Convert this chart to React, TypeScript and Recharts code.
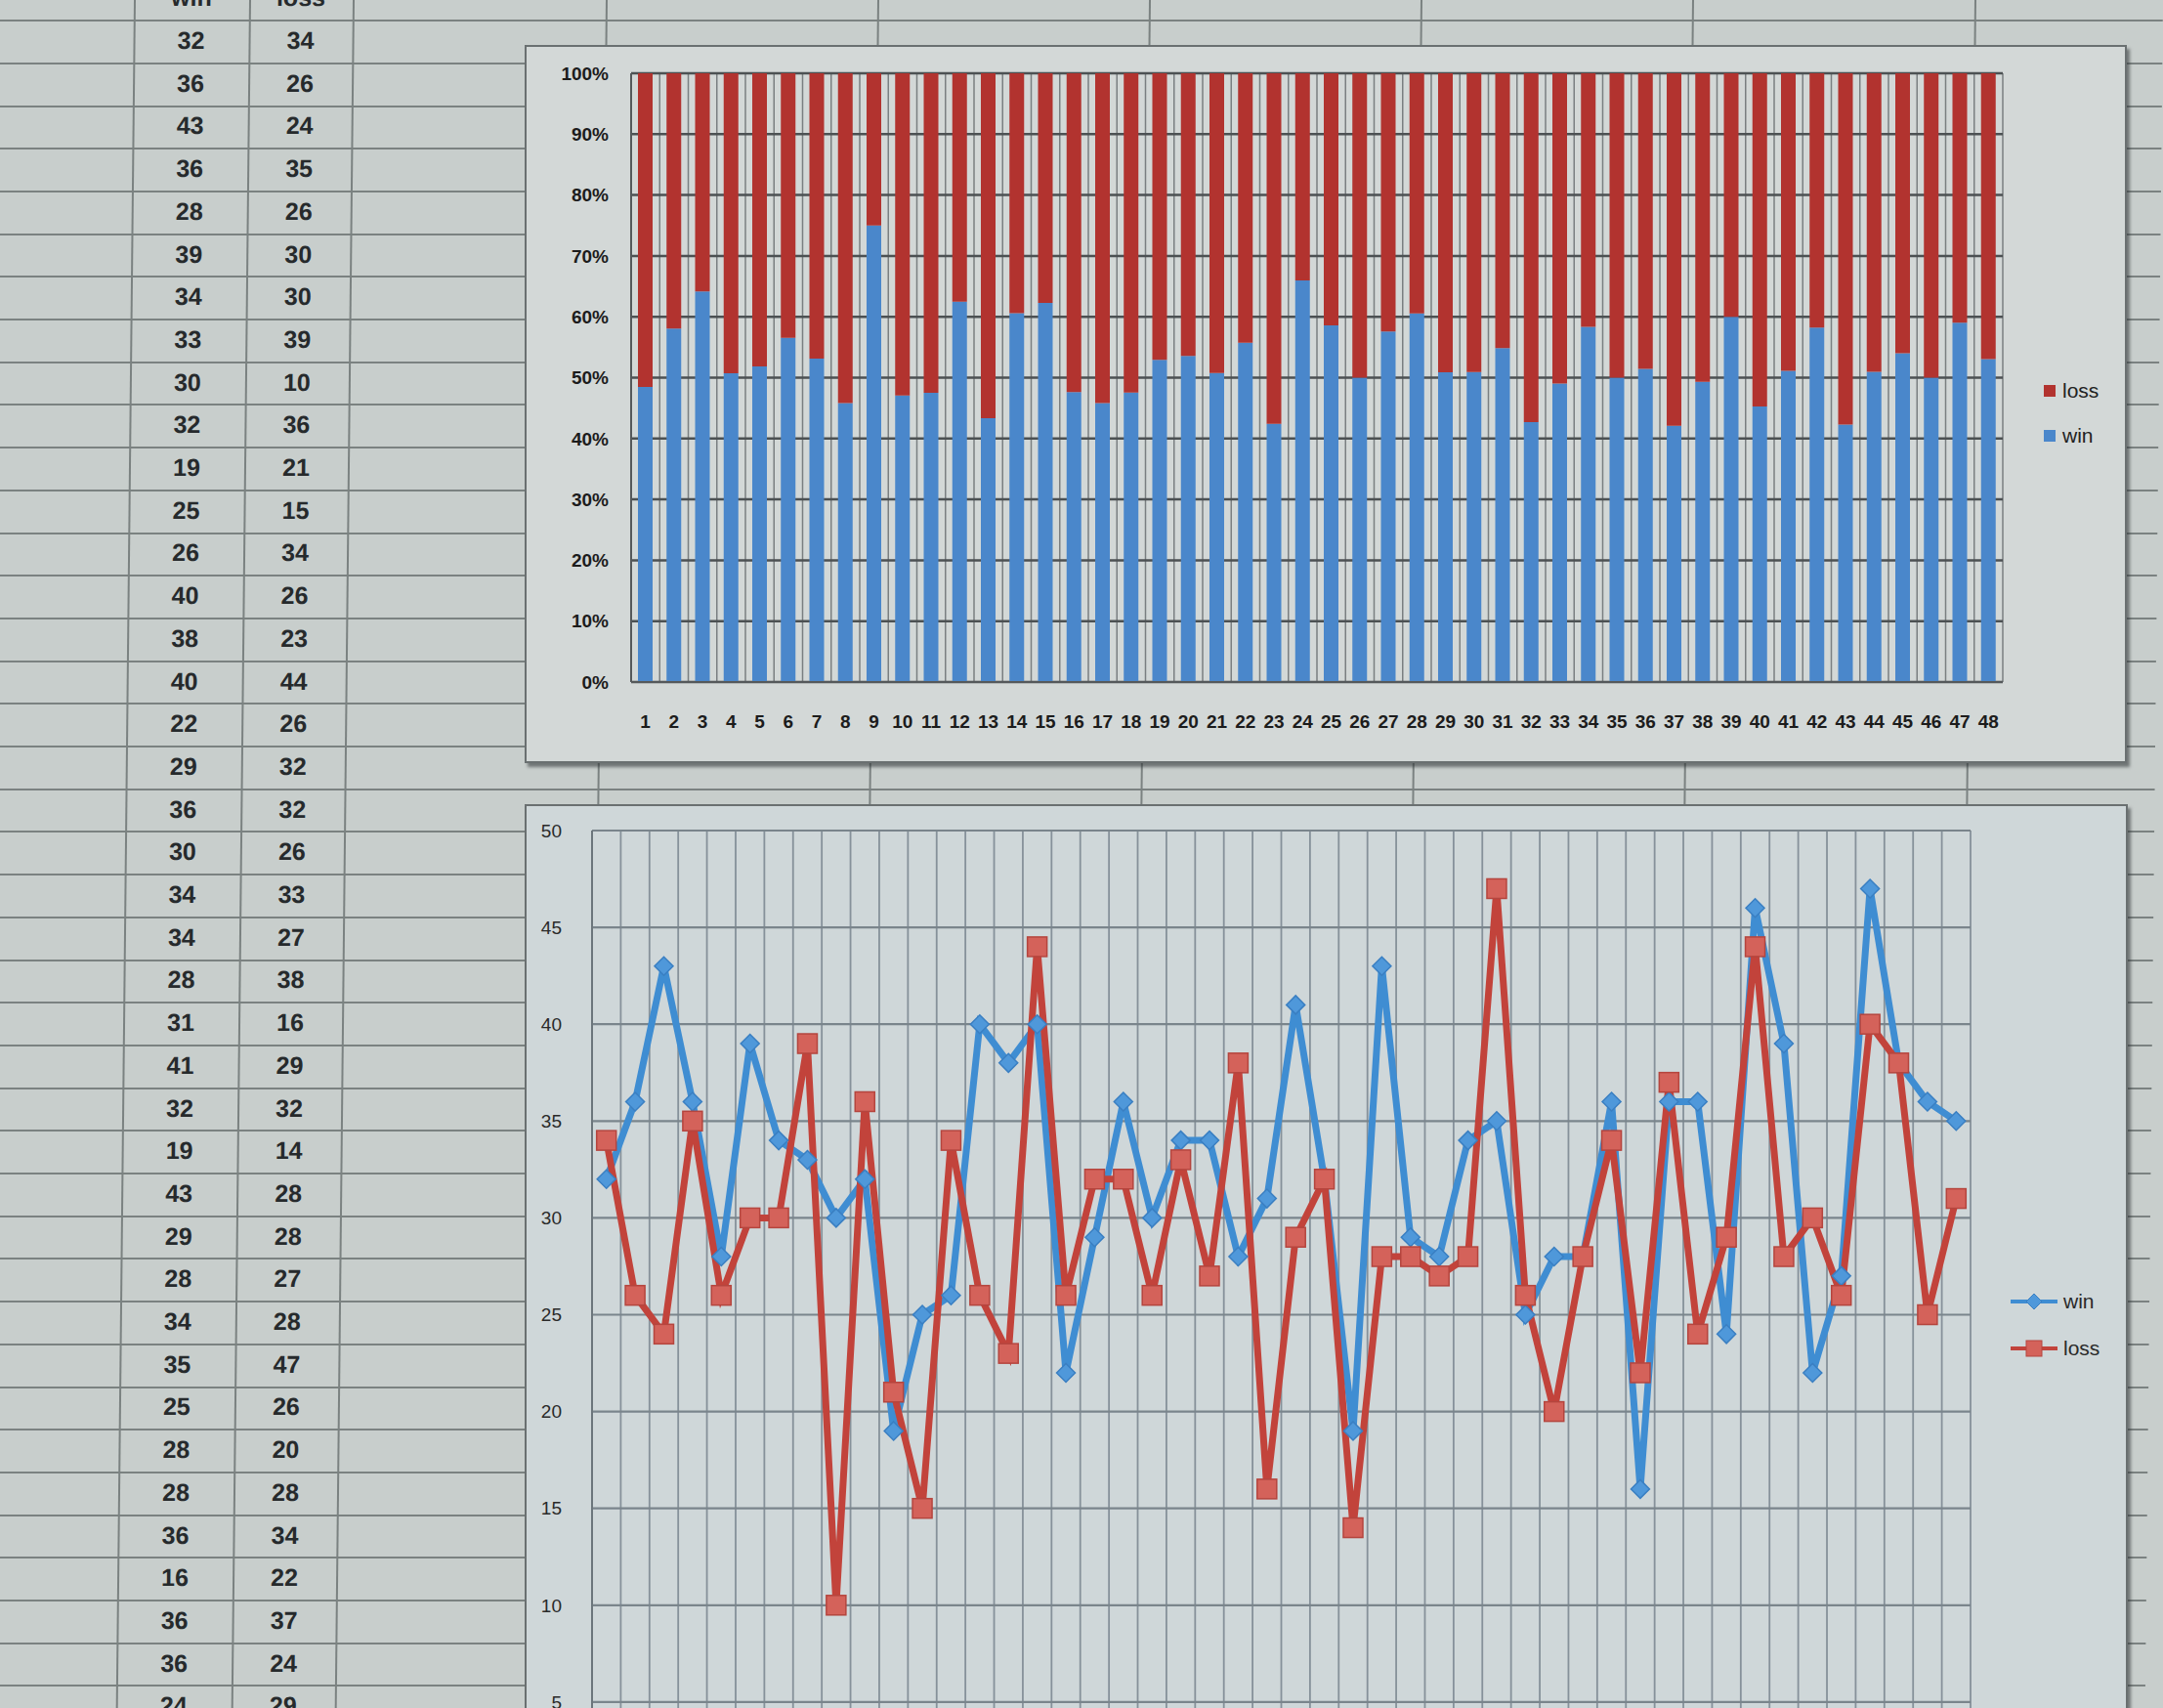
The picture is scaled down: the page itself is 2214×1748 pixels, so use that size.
import React from 'react';
import { BarChart, Bar, XAxis, YAxis, CartesianGrid, ComposedChart, Line } from 'recharts';

const categories = ['1','2','3','4','5','6','7','8','9','10','11','12','13','14','15','16','17','18','19','20','21','22','23','24','25','26','27','28','29','30','31','32','33','34','35','36','37','38','39','40','41','42','43','44','45','46','47','48'];
const winValues = [32,36,43,36,28,39,34,33,30,32,19,25,26,40,38,40,22,29,36,30,34,34,28,31,41,32,19,43,29,28,34,35,25,28,28,36,16,36,36,24,46,39,22,27,47,38,36,35];
const lossValues = [34,26,24,35,26,30,30,39,10,36,21,15,34,26,23,44,26,32,32,26,33,27,38,16,29,32,14,28,28,27,28,47,26,20,28,34,22,37,24,29,44,28,30,26,40,38,25,31];
const percentTicks = [0,0.1,0.2,0.3,0.4,0.5,0.6,0.7,0.8,0.9,1];
const countTicks = [0,5,10,15,20,25,30,35,40,45,50];
const tableHeaders = ['win','loss'];

const data = categories.map((c, i) => ({ name: c, win: winValues[i], loss: lossValues[i] }));

const FONT = '"Liberation Sans", Arial, sans-serif';
const SHEET_BG = '#c8cecc';
const CHART_BG = '#d3d8d7';
const LINE_BG = '#cfd7d9';
const BLUE = '#4a87cb';
const RED = '#b2332f';
const LBLUE = '#3f8dd2';
const LRED = '#c2433b';

const boundaryLines = (props: any) => {
  const { offset } = props;
  const n = categories.length;
  const out: number[] = [];
  for (let i = 0; i <= n; i++) out.push(offset.left + (offset.width * i) / n);
  return out;
};

const DiamondDot = (props: any) => {
  const { cx, cy, index } = props;
  if (cx == null || cy == null) return <g key={`d${index}`} />;
  const s = 9.5;
  return (
    <polygon
      key={`d${index}`}
      points={`${cx},${cy - s} ${cx + s},${cy} ${cx},${cy + s} ${cx - s},${cy}`}
      fill="#4f98da"
      stroke="#3a7fc2"
      strokeWidth={1.5}
    />
  );
};

const SquareDot = (props: any) => {
  const { cx, cy, index } = props;
  if (cx == null || cy == null) return <g key={`s${index}`} />;
  const s = 10;
  return (
    <rect key={`s${index}`} x={cx - s} y={cy - s} width={2 * s} height={2 * s} fill="#d4625a" stroke="#b5453e" strokeWidth={1.5} />
  );
};

const ROW0 = 42;
const ROWH = 43.7;

function Sheet() {
  const rowLines: React.ReactNode[] = [];
  for (let k = -1; k <= 41; k++) {
    rowLines.push(
      <div key={`r${k}`} style={{ position: 'absolute', left: 0, width: 2214, top: ROW0 - ROWH / 2 + k * ROWH, height: 2, background: '#7b8281' }} />
    );
  }
  const colXs = [137, 255, 361, 620, 898, 1176, 1454, 1732, 2021];
  const colLines = colXs.map((x, i) => (
    <div key={`c${i}`} style={{ position: 'absolute', top: 0, height: 1748, left: x, width: 2, background: '#7b8281' }} />
  ));
  const cells: React.ReactNode[] = [];
  const centers = [196, 308];
  tableHeaders.forEach((h, j) => {
    cells.push(
      <div key={`h${j}`} style={{ position: 'absolute', left: centers[j] - 60, width: 120, top: ROW0 - ROWH - 15, height: 30, lineHeight: '30px', textAlign: 'center', font: `bold 25px ${FONT}`, color: '#262a2c' }}>{h}</div>
    );
  });
  for (let i = 0; i < 40; i++) {
    const y = ROW0 + i * ROWH;
    cells.push(
      <div key={`w${i}`} style={{ position: 'absolute', left: centers[0] - 60, width: 120, top: y - 15, height: 30, lineHeight: '30px', textAlign: 'center', font: `bold 25px ${FONT}`, color: '#262a2c' }}>{winValues[i]}</div>
    );
    cells.push(
      <div key={`l${i}`} style={{ position: 'absolute', left: centers[1] - 60, width: 120, top: y - 15, height: 30, lineHeight: '30px', textAlign: 'center', font: `bold 25px ${FONT}`, color: '#262a2c' }}>{lossValues[i]}</div>
    );
  }
  return (
    <div style={{ position: 'absolute', left: 0, top: 0, width: 2214, height: 1748, transform: 'skewX(-0.6deg)', transformOrigin: '0 0' }}>
      {rowLines}
      {colLines}
      {cells}
    </div>
  );
}

const frameStyle = (left: number, top: number, width: number, height: number, bg: string): React.CSSProperties => ({
  position: 'absolute',
  left,
  top,
  width,
  height,
  boxSizing: 'border-box',
  background: bg,
  border: '2px solid #6a7071',
  boxShadow: '3px 4px 3px rgba(40,45,48,0.55)',
});

function BarLegend() {
  const items = [
    { label: 'loss', color: RED, y: 400 },
    { label: 'win', color: BLUE, y: 446 },
  ];
  return (
    <>
      {items.map((it) => (
        <div key={it.label} style={{ position: 'absolute', left: 2092, top: it.y - 14, height: 28, display: 'flex', alignItems: 'center' }}>
          <div style={{ width: 12, height: 12, background: it.color, marginRight: 7 }} />
          <span style={{ font: `21px ${FONT}`, color: '#222' }}>{it.label}</span>
        </div>
      ))}
    </>
  );
}

function LineLegend() {
  const items = [
    { label: 'win', color: LBLUE, y: 1332, marker: 'diamond' },
    { label: 'loss', color: LRED, y: 1380, marker: 'square' },
  ];
  return (
    <>
      {items.map((it) => (
        <div key={it.label} style={{ position: 'absolute', left: 2058, top: it.y - 14, height: 28, display: 'flex', alignItems: 'center' }}>
          <svg width={48} height={24} style={{ marginRight: 6 }}>
            <line x1={0} y1={12} x2={48} y2={12} stroke={it.color} strokeWidth={4} />
            {it.marker === 'diamond' ? (
              <polygon points="24,4 32,12 24,20 16,12" fill="#4f98da" stroke="#3a7fc2" />
            ) : (
              <rect x={16} y={4} width={16} height={16} fill="#d4625a" stroke="#b5453e" />
            )}
          </svg>
          <span style={{ font: `21px ${FONT}`, color: '#2a2a2a' }}>{it.label}</span>
        </div>
      ))}
    </>
  );
}

export default function App() {
  return (
    <div style={{ position: 'absolute', left: 0, top: 0, width: 2214, height: 1748, overflow: 'hidden', background: SHEET_BG }}>
      <Sheet />

      {/* Stacked 100% bar chart */}
      <div style={frameStyle(537, 46, 1640, 735, CHART_BG)} />
      <div style={{ position: 'absolute', left: 537, top: 46 }}>
        <BarChart
          width={1640}
          height={735}
          data={data}
          stackOffset="expand"
          barSize={15}
          margin={{ top: 29, right: 127, bottom: 33, left: 29 }}
        >
          <CartesianGrid horizontal={false} vertical verticalCoordinatesGenerator={boundaryLines} stroke="#7a7f81" strokeWidth={1.5} />
          <CartesianGrid vertical={false} horizontal stroke="#4c5153" strokeWidth={2.5} />
          <XAxis
            dataKey="name"
            interval={0}
            tickLine={false}
            tickSize={0}
            tickMargin={34}
            height={50}
            axisLine={{ stroke: '#55595b', strokeWidth: 2 }}
            tick={{ fill: '#1c1c1c', fontSize: 19, fontWeight: 'bold', fontFamily: FONT }}
          />
          <YAxis
            width={80}
            domain={[0, 1]}
            ticks={percentTicks}
            interval={0}
            tickFormatter={(v: number) => `${Math.round(v * 100)}%`}
            tickLine={false}
            tickSize={0}
            tickMargin={23}
            axisLine={{ stroke: '#55595b', strokeWidth: 2 }}
            tick={{ fill: '#1c1c1c', fontSize: 19, fontWeight: 'bold', fontFamily: FONT }}
          />
          <Bar dataKey="win" stackId="a" fill={BLUE} barSize={15} isAnimationActive={false} />
          <Bar dataKey="loss" stackId="a" fill={RED} barSize={15} isAnimationActive={false} />
        </BarChart>
      </div>
      <BarLegend />

      {/* Line chart */}
      <div style={frameStyle(537, 823, 1641, 1100, LINE_BG)} />
      <div style={{ position: 'absolute', left: 537, top: 823 }}>
        <ComposedChart
          width={1641}
          height={1100}
          data={data}
          margin={{ top: 27, right: 161, bottom: 42, left: 19 }}
        >
          <CartesianGrid horizontal={false} vertical verticalCoordinatesGenerator={boundaryLines} stroke="#86919a" strokeWidth={1.8} />
          <CartesianGrid vertical={false} horizontal stroke="#7a858c" strokeWidth={2.2} />
          <XAxis
            dataKey="name"
            interval={0}
            padding={{ left: 14.7, right: 14.7 }}
            tick={false}
            tickLine={false}
            height={40}
            axisLine={{ stroke: '#6c767c', strokeWidth: 2 }}
          />
          <YAxis
            width={50}
            domain={[0, 50]}
            ticks={countTicks}
            interval={0}
            tickLine={false}
            tickSize={0}
            tickMargin={31}
            axisLine={{ stroke: '#6c767c', strokeWidth: 2 }}
            tick={{ fill: '#2a2a2a', fontSize: 19, fontFamily: FONT }}
          />
          <Line type="linear" dataKey="win" stroke={LBLUE} strokeWidth={7} dot={DiamondDot} activeDot={false} isAnimationActive={false} />
          <Line type="linear" dataKey="loss" stroke={LRED} strokeWidth={7} dot={SquareDot} activeDot={false} isAnimationActive={false} />
        </ComposedChart>
      </div>
      <LineLegend />
    </div>
  );
}
